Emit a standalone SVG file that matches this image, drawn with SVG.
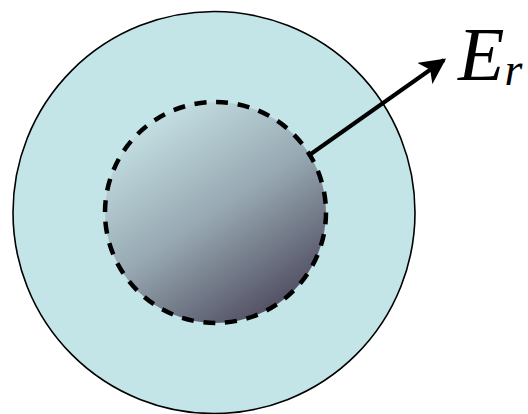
<svg xmlns="http://www.w3.org/2000/svg" width="528" height="414" viewBox="0 0 528 414">
<style>
.lbl{font-family:"Liberation Serif","Times New Roman",serif;font-style:italic;fill:#000}
</style>
<defs>
<linearGradient id="g" x1="0.2" y1="0.05" x2="0.8" y2="0.95">
<stop offset="0" stop-color="#c6e2e5"/>
<stop offset="0.5" stop-color="#97a8b2"/>
<stop offset="1" stop-color="#4e4b5e"/>
</linearGradient>
<marker id="ah" viewBox="0 0 10 10" refX="9" refY="5" markerWidth="6.5" markerHeight="6.5" orient="auto" markerUnits="strokeWidth">
<path d="M0,0 L10,5 L0,10 L2.5,5 Z" fill="#000"/>
</marker>
</defs>
<g id="outer">
<circle cx="214" cy="212.5" r="201" fill="#c4e5e8" stroke="#000" stroke-width="1.6"/>
</g>
<g id="inner">
<circle cx="215.5" cy="212.5" r="110.5" fill="url(#g)" stroke="#000" stroke-width="4.5" stroke-dasharray="12 9.7"/>
</g>
<g id="connectors">
<line x1="308" y1="156" x2="444" y2="60" stroke="#000" stroke-width="4" marker-end="url(#ah)"/>
</g>
<g id="label">
<text class="lbl" x="458" y="80" font-size="76">E<tspan font-size="46" dy="5">r</tspan></text>
</g>
</svg>
